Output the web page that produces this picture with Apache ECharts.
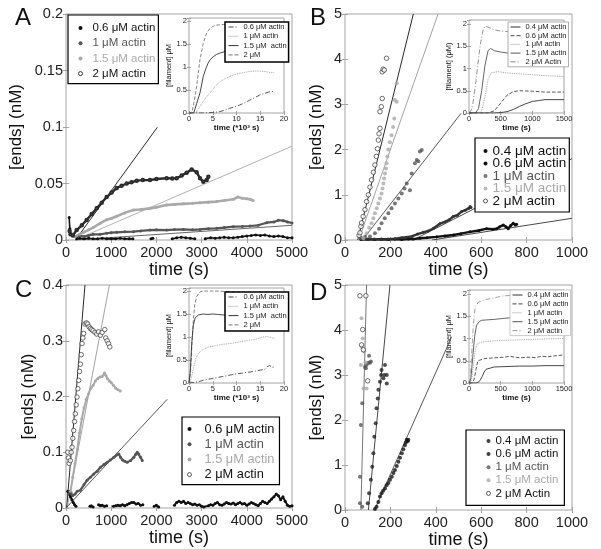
<!DOCTYPE html>
<html>
<head>
<meta charset="utf-8">
<script src="https://cdn.jsdelivr.net/npm/echarts@6/dist/echarts.min.js"></script>
<style>
html, body { margin: 0; padding: 0; background: #fff; }
#chart { width: 601px; height: 549px; }
</style>
</head>
<body>
<div id="chart"></div>
<script>
// ---- panel A: [ends] vs time, pairs of [time (s), ends (nM)]
const aEnds06 = [[70,0.02],[85,0.01],[95,0.005],[110,'-'],[240,0.001],[300,0.0015],[400,0.001],[500,0.0015],[600,0.001],[700,0.001],[800,0.0015],[900,0.001],[1000,0.0012],[1100,0.001],[1200,0.0015],[1300,0.001],[1400,0.0012],[1480,0.001],[1550,'-'],[1880,0.001],[1920,0.0015],[1960,'-'],[2350,0.001],[2450,0.002],[2550,0.0025],[2650,0.002],[2750,0.0015],[2850,0.001],[2950,'-'],[3080,0.0012],[3200,0.002],[3300,0.0015],[3400,0.002],[3500,0.0025],[3600,0.002],[3700,0.002],[3800,0.0025],[3900,0.003],[4000,0.0035],[4100,0.004],[4200,0.0045],[4300,0.004],[4400,0.0045],[4500,0.0035],[4600,0.003],[4700,0.0035],[4800,0.003],[4900,0.002],[5000,0.002]];
const aEnds1 = [[200,0.003],[300,0.004],[401,0.003],[500,0.004],[600,0.005],[752,0.005],[900,0.006],[1000,0.0065],[1122,0.0068],[1300,0.0072],[1490,0.0074],[1650,0.008],[1858,0.0088],[2000,0.009],[2227,0.0088],[2400,0.0092],[2596,0.0094],[2800,0.009],[2965,0.0094],[3150,0.01],[3333,0.0103],[3500,0.011],[3702,0.0118],[3900,0.012],[4071,0.0124],[4250,0.013],[4440,0.0153],[4600,0.016],[4700,0.0175],[4808,0.0171],[4900,0.016],[5000,0.015]];
const aEnds15 = [[200,0.003],[300,0.005],[400,0.007],[500,0.009],[600,0.011],[752,0.0147],[900,0.018],[1000,0.019],[1122,0.021],[1300,0.024],[1490,0.0265],[1650,0.027],[1858,0.028],[2000,0.029],[2227,0.031],[2400,0.0315],[2596,0.032],[2800,0.0325],[2965,0.033],[3150,0.0335],[3333,0.034],[3500,0.035],[3702,0.036],[3800,0.038],[3900,0.037],[4000,0.0365],[4071,0.036],[4140,0.035]];
const aEnds2 = [[80,0.008],[100,0.005],[150,0.004],[236,0.0088],[350,0.013],[457,0.0177],[570,0.023],[679,0.028],[790,0.033],[900,0.038],[1010,0.042],[1122,0.046],[1230,0.048],[1343,0.05],[1450,0.051],[1564,0.0525],[1700,0.053],[1858,0.053],[2000,0.054],[2227,0.0546],[2350,0.0545],[2448,0.0546],[2560,0.057],[2670,0.0596],[2780,0.0625],[2891,0.06],[2965,0.0546],[3038,0.0516],[3112,0.053],[3149,0.056]];
const aFit2 = [[209,0],[2020,0.0997]];
const aFit15 = [[200,0],[5000,0.083]];
const aFit1 = [[200,0],[5000,0.013]];
// panel A inset: [time (*10^3 s), filament (uM)]
const aFil2 = [[0,0],[0.6,0],[1,0.2],[1.6,0.57],[2.3,1.15],[3,1.51],[3.7,1.73],[4.3,1.82],[4.9,1.87],[5.5,1.9],[6.25,1.91],[7.3,1.92],[10,1.93],[14,1.93],[18,1.93]];
const aFil15 = [[0,0],[1,0],[1.6,0.2],[2.3,0.43],[3,0.79],[3.5,0.95],[4,1.08],[4.5,1.16],[5.1,1.22],[5.8,1.27],[6.5,1.3],[7.5,1.33],[9,1.35],[12,1.36],[18,1.36]];
const aFil1 = [[0,0],[1.5,0.02],[2.3,0.14],[3,0.25],[3.7,0.35],[4.4,0.43],[5.5,0.57],[6.5,0.68],[7.5,0.74],[8.5,0.79],[9.5,0.83],[10.6,0.86],[11.7,0.88],[12.8,0.9],[14,0.91],[14.9,0.91],[16,0.9],[17,0.88],[18,0.88]];
const aFil06 = [[0,0],[3,0],[4,0.005],[5,0.01],[6.5,0.03],[7.5,0.06],[8.5,0.1],[9.5,0.13],[10.6,0.17],[11.7,0.22],[12.8,0.28],[13.8,0.33],[14.9,0.39],[16,0.43],[17,0.46],[18,0.47]];

// ---- panel B
const bEnds04 = [[70,0.01],[100,0.02],[130,0.01],[160,0.02],[190,0.01],[220,0.02],[250,0.01],[280,0.02],[300,0.02],[330,0.04],[360,0.05],[404,0.07],[440,0.09],[477,0.11],[510,0.14],[551,0.18],[590,0.21],[624,0.25],[650,0.24],[668,0.25],[680,0.29],[697,0.33],[710,0.29],[719,0.25],[730,0.32],[741,0.37],[750,0.33],[756,0.35]];
const bEnds06 = [[70,0.02],[100,0.01],[130,0.02],[160,0.01],[190,0.02],[220,0.03],[250,0.05],[270,0.06],[294,0.08],[320,0.13],[345,0.17],[367,0.2],[390,0.26],[418,0.36],[440,0.4],[460,0.45],[477,0.52],[495,0.55],[514,0.63],[530,0.66],[545,0.7],[551,0.74],[555,0.72]];
const bEnds1 = [[70,0.05],[88,0.07],[110,0.08],[132,0.15],[150,0.25],[161,0.37],[175,0.48],[191,0.59],[205,0.7],[220,0.81],[235,0.92],[250,1.03],[262,1.14],[272,1.25],[286,1.1],[294,1.47],[308,1.7],[316,1.77],[323,1.74],[330,1.96],[338,1.99]];
const bEnds15 = [[81,0.04],[95,0.15],[106,0.27],[117,0.37],[125,0.48],[132,0.59],[140,0.7],[147,0.81],[154,0.92],[161,1.03],[165,1.14],[169,1.25],[172,1.36],[176,1.47],[180,1.58],[183,1.7],[187,1.85],[191,2.0],[198,2.16],[205,2.32],[212,2.5],[217,2.69],[220,3.1],[228,3.06],[228,3.47]];
const bEnds2 = [[62,0.1],[66,0.16],[70,0.3],[73,0.38],[80,0.52],[88,0.67],[95,0.85],[103,1.0],[110,1.17],[117,1.33],[125,1.5],[132,1.66],[138,1.85],[143,2.02],[147,2.21],[150,2.35],[154,2.47],[154,2.84],[160,2.95],[164,3.13],[164,3.72],[168,3.78],[173,3.76],[183,4.02]];
const bFit2 = [[56,0],[301,5]];
const bFit15 = [[60,0],[410,5]];
const bFit1 = [[77,0],[511,2.8]];
const bFit06 = [[300,0],[1000,1.8]];
const bFit04 = [[384,0],[1000,0.48]];
const bFil2 = [[0,0],[30,0.05],[60,0.2],[100,0.6],[140,1.1],[180,1.55],[220,1.85],[250,1.95],[300,1.93],[400,1.87],[500,1.84],[600,1.83],[800,1.82],[1000,1.8],[1500,1.8]];
const bFil15 = [[0,0],[100,0],[150,0.1],[200,0.5],[250,1.05],[300,1.4],[340,1.45],[400,1.4],[500,1.37],[600,1.35],[800,1.33],[1000,1.32],[1500,1.3]];
const bFil1 = [[0,0],[150,0],[200,0.05],[250,0.35],[300,0.75],[350,0.9],[450,0.93],[600,0.9],[800,0.88],[1000,0.86],[1200,0.84],[1500,0.82]];
const bFil06 = [[0,0],[300,0],[400,0.05],[500,0.22],[600,0.4],[700,0.48],[800,0.5],[1000,0.49],[1200,0.47],[1500,0.47]];
const bFil04 = [[0,0],[400,0],[500,0.01],[600,0.03],[700,0.08],[800,0.15],[900,0.21],[1000,0.26],[1100,0.28],[1200,0.3],[1500,0.3]];

// ---- panel C
const cEnds06 = [[40,0.03],[70,0.025],[100,0.02],[130,0.015],[160,0.01],[190,0.006],[220,0.003],[260,'-'],[530,0.003],[560,0.004],[600,0.002],[640,'-'],[720,0.006],[760,0.004],[800,0.005],[850,0.003],[900,0.004],[960,'-'],[1050,0.003],[1100,0.004],[1150,0.005],[1200,0.004],[1250,0.006],[1300,0.004],[1350,0.006],[1400,0.008],[1450,0.01],[1500,0.01],[1550,0.007],[1600,0.008],[1650,0.005],[1700,0.006],[1800,'-'],[1950,0.003],[2000,0.005],[2050,0.002],[2150,'-'],[2400,0.005],[2450,0.01],[2500,0.012],[2550,0.01],[2600,0.012],[2650,0.008],[2700,0.01],[2750,0.008],[2800,0.006],[2850,0.007],[2900,0.005],[2950,0.006],[3000,0.003],[3050,0.002],[3150,0.004],[3200,0.006],[3250,0.005],[3300,0.008],[3350,0.01],[3400,0.006],[3450,0.005],[3500,0.007],[3550,0.01],[3600,0.008],[3650,0.007],[3700,0.009],[3750,0.006],[3800,0.008],[3850,0.01],[3900,0.007],[3950,0.008],[4000,0.005],[4050,0.007],[4100,0.01],[4150,0.008],[4200,0.006],[4250,0.004],[4300,0.008],[4350,0.012],[4400,0.01],[4450,0.008],[4500,0.012],[4550,0.016],[4600,0.02],[4650,0.025],[4700,0.022],[4750,0.015],[4800,0.02],[4850,0.012],[4900,0.005],[4950,0.003],[5000,0.004]];
const cEnds1 = [[50,0.025],[80,0.03],[110,0.028],[150,0.022],[200,0.025],[250,0.03],[318,0.032],[400,0.042],[466,0.05],[540,0.055],[614,0.061],[690,0.066],[762,0.073],[840,0.078],[910,0.082],[980,0.086],[1058,0.091],[1120,0.095],[1169,0.097],[1206,0.091],[1250,0.086],[1300,0.084],[1354,0.082],[1428,0.085],[1502,0.091],[1540,0.096],[1576,0.1],[1610,0.097],[1650,0.091],[1687,0.085]];
const cEnds15 = [[100,0.03],[150,0.055],[200,0.08],[250,0.105],[300,0.135],[350,0.16],[400,0.18],[450,0.195],[500,0.205],[550,0.215],[600,0.22],[650,0.228],[700,0.232],[750,0.235],[800,0.236],[850,0.242],[880,0.238],[920,0.232],[960,0.228],[1000,0.225],[1050,0.22],[1100,0.215],[1150,0.212],[1200,0.21]];
const cEnds2 = [[40,0.1],[55,0.09],[70,0.08],[96,0.085],[115,0.1],[133,0.109],[150,0.125],[169,0.139],[188,0.155],[207,0.169],[225,0.185],[244,0.199],[262,0.214],[281,0.229],[300,0.245],[318,0.258],[337,0.275],[355,0.295],[373,0.305],[391,0.313],[420,0.33],[451,0.332],[480,0.33],[510,0.325],[540,0.322],[570,0.32],[600,0.318],[640,0.315],[680,0.312],[720,0.316],[760,0.31],[800,0.315],[857,0.32],[880,0.305],[910,0.3],[940,0.295],[969,0.289]];
const cFit2 = [[15,0],[420,0.4]];
const cFit15 = [[25,0],[960,0.4]];
const cFit1 = [[0,0],[2240,0.195]];
const cFil2 = [[0,0],[0.3,0.2],[0.6,0.8],[0.9,1.35],[1.2,1.7],[1.6,1.88],[2.3,1.98],[3,2.0],[5,2.0],[8,1.99],[10,1.98],[18,1.97]];
const cFil15 = [[0,0],[0.3,0.3],[0.6,0.9],[0.9,1.25],[1.3,1.42],[2,1.48],[3,1.5],[4,1.49],[5,1.5],[6,1.49],[7,1.48],[10,1.47],[18,1.45]];
const cFil1 = [[0,0],[0.5,0.1],[1,0.35],[1.5,0.55],[2,0.65],[3,0.73],[4,0.78],[5,0.8],[6,0.82],[7,0.84],[8,0.85],[10,0.88],[12,0.92],[14,0.95],[15.5,1.0],[16.5,1.01],[17.5,0.98],[18,0.97]];
const cFil06 = [[0,0.02],[1,0.01],[2,0.03],[3,0.06],[4,0.08],[5,0.1],[6,0.12],[7,0.14],[8,0.16],[9,0.18],[10,0.2],[11,0.21],[12,0.23],[13,0.24],[14,0.26],[15,0.28],[16,0.3],[16.5,0.36],[17,0.38],[17.5,0.34],[18,0.35]];

// ---- panel D
const dEnds04 = [[132,0.02],[139,0.07],[147,0.18],[154,0.3],[161,0.37],[168,0.43],[176,0.48],[183,0.55],[191,0.6],[198,0.67],[206,0.74],[213,0.82],[220,0.89],[228,0.98],[235,1.07],[242,1.16],[250,1.26],[257,1.35],[264,1.44],[268,1.5],[272,1.56],[276,1.53],[279,1.56]];
const dEnds06 = [[100,0.15],[106,0.37],[114,0.67],[120,0.96],[125,1.26],[129,1.63],[135,1.93],[139,2.26],[144,2.48],[147,2.67],[154,2.85],[159,3.0],[161,3.11],[169,2.93],[173,3.0],[176,3.22],[184,3.0],[184,2.81]];
const dEnds1 = [[66,0.15],[76,0.07],[66,0.74],[70,1.89],[76,2.37],[88,3.18],[92,3.15],[95,3.22],[103,3.27],[106,3.43],[110,3.27],[114,3.3]];
const dEnds15 = [[73,4.26],[78,3.81],[73,3.63],[85,3.52],[70,3.22],[81,2.7],[95,2.7],[90,3.28]];
const dEnds2 = [[66,4.76],[92,4.76],[78,4.01],[73,3.67],[81,3.56],[100,2.87]];
const dFit2 = [[70,0],[95,5]];
const dFit06 = [[103,0],[198,5]];
const dFit04 = [[130,0],[470,3.85]];
const dFil2 = [[0,0],[20,0.05],[40,0.6],[60,1.1],[80,1.5],[100,1.72],[150,1.82],[250,1.87],[350,1.9],[450,1.93],[550,1.96],[700,1.97],[1000,1.98],[1500,2.0]];
const dFil15 = [[0,0],[30,0.1],[60,0.6],[90,1.05],[120,1.3],[160,1.38],[200,1.41],[300,1.42],[400,1.43],[600,1.46],[1000,1.48],[1500,1.5]];
const dFil1 = [[0,0],[40,0.05],[70,0.4],[100,0.75],[130,0.88],[200,0.92],[400,0.95],[600,0.96],[800,0.97],[1000,0.98],[1200,0.99],[1500,1.0]];
const dFil06 = [[0,0],[50,0],[80,0.08],[110,0.3],[140,0.5],[170,0.54],[250,0.55],[350,0.56],[450,0.57],[550,0.58],[650,0.6],[750,0.57],[850,0.57],[950,0.58],[1050,0.57],[1150,0.6],[1250,0.59],[1350,0.61],[1500,0.63]];
const dFil04 = [[0,0],[100,0],[150,0.02],[180,0.07],[210,0.15],[240,0.25],[270,0.31],[300,0.34],[400,0.36],[600,0.37],[800,0.38],[1000,0.38],[1200,0.39],[1500,0.39]];

const LABELS = {
  a06: '0.6 μM actin', a1: '1 μM actin', a15: '1.5 μM actin', a2: '2 μM actin',
  ai06: '0.6 μM actin', ai1: '1 μM actin', ai15: '1.5 μM  actin', ai2: '2 μM',
  b04: '0.4 μM actin', b06: '0.6 μM actin', b1: '1 μM actin', b15: '1.5 μM actin', b2: '2 μM actin',
  bi04: '0.4 μM actin', bi06: '0.6 μM actin', bi1: '1 μM actin', bi15: '1.5 μM actin', bi2: '2 μM Actin',
  c06: '0.6 μM actin', c1: '1 μM actin', c15: '1.5 μM actin', c2: '2 μM actin',
  ci06: '0.6 μM actin', ci1: '1 μM actin', ci15: '1.5 μM  actin', ci2: '2 μM',
  d04: '0.4 μM actin', d06: '0.6 μM actin', d1: '1 μM actin', d15: '1.5 μM actin', d2: '2 μM Actin',
  di04: '0.4 μM actin', di06: '0.6 μM actin', di1: '1 μM actin', di15: '1.5 μM actin', di2: '2 μM actin'
};

const FONT = '"Liberation Sans", Arial, sans-serif';
const FRAME = '#a4a4a4';
const BLACK = '#111';
const DARK = '#555';
const LIGHT = '#a9a9a9';
const RING = '#333';
const DASHDOT = [5, 2, 1, 2];

const chart = echarts.init(document.getElementById('chart'));

const grids = [
  { left: 66, top: 14, width: 226, height: 226 },
  { left: 345, top: 14, width: 227, height: 226 },
  { left: 66, top: 285, width: 226, height: 223 },
  { left: 345, top: 285, width: 227, height: 225 },
  { left: 189, top: 18, width: 95, height: 95 },
  { left: 469, top: 20, width: 95, height: 93 },
  { left: 189, top: 288, width: 95, height: 95 },
  { left: 469, top: 290, width: 95, height: 93 }
].map(g => Object.assign(g, { show: true, borderColor: FRAME, borderWidth: 1, backgroundColor: '#fff', outerBoundsMode: 'none' }));

// x axes: [max, interval, name, nameGap], y axes: [max, interval, name, nameGap]
const xSpec = [
  [5000, 1000, 'time (s)', 16], [1000, 200, 'time (s)', 14], [5000, 1000, 'time (s)', 20], [1000, 200, 'time (s)', 19],
  [20, 5, 'time (*10³ s)', 8], [1500, 500, 'time (s)', 8], [20, 5, 'time (*10³ s)', 8], [1500, 500, 'time (s)', 8]
];
const ySpec = [
  [0.2, 0.05, '[ends] (nM)', 41], [5, 1, '[ends] (nM)', 20], [0.4, 0.1, '[ends] (nM)', 29], [5, 1, '[ends] (nM)', 20],
  [2.06, 0.5, '[filament] μM', 12], [2.09, 0.5, '[filament] (μM)', 12], [2.065, 0.5, '[filament] μM', 12], [2.09, 0.5, '[filament] μM', 12]
];

function onTick(step) {
  return v => (Math.abs(v / step - Math.round(v / step)) < 1e-6 ? String(+v.toFixed(3)) : '');
}

const xAxis = [];
const yAxis = [];
xSpec.forEach((s, i) => {
  const inset = i >= 4;
  xAxis.push({
    type: 'value', gridIndex: i, min: 0, max: s[0], interval: s[1], position: 'bottom',
    name: s[2], nameLocation: 'middle', nameGap: s[3],
    nameTextStyle: { fontFamily: FONT, fontSize: inset ? 8 : 18, color: '#111', fontWeight: inset ? 'bold' : 'normal' },
    axisLine: { show: false },
    axisTick: { inside: true, length: inset ? 2 : 3, lineStyle: { color: FRAME } },
    axisLabel: { fontFamily: FONT, fontSize: inset ? 7.5 : 14.5, color: '#222', margin: inset ? 2 : 5, formatter: onTick(s[1]) },
    splitLine: { show: false }
  });
});
ySpec.forEach((s, i) => {
  const inset = i >= 4;
  yAxis.push({
    type: 'value', gridIndex: i, min: 0, max: s[0], interval: s[1], position: 'left',
    name: s[2], nameLocation: 'middle', nameRotate: 90, nameGap: s[3],
    nameTextStyle: { fontFamily: FONT, fontSize: inset ? 7.5 : 17, color: '#111' },
    axisLine: { show: false },
    axisTick: { inside: true, length: inset ? 2 : 3, lineStyle: { color: FRAME } },
    axisLabel: { fontFamily: FONT, fontSize: inset ? 7.5 : 14.5, color: '#222', margin: inset ? 2 : 3, formatter: onTick(s[1]) },
    splitLine: { show: false }
  });
});
// mirrored ticks on the top and right edges of every box
xSpec.forEach((s, i) => {
  xAxis.push({
    type: 'value', gridIndex: i, min: 0, max: s[0], interval: s[1], position: 'top',
    axisLine: { show: false }, axisLabel: { show: false }, splitLine: { show: false },
    axisTick: { inside: true, length: i >= 4 ? 2 : 3, lineStyle: { color: FRAME } }
  });
});
ySpec.forEach((s, i) => {
  yAxis.push({
    type: 'value', gridIndex: i, min: 0, max: s[0], interval: s[1], position: 'right',
    axisLine: { show: false }, axisLabel: { show: false }, splitLine: { show: false },
    axisTick: { inside: true, length: i >= 4 ? 2 : 3, lineStyle: { color: FRAME } }
  });
});

function trail(name, gi, data, color, width, symbol, size) {
  return {
    type: 'line', name, xAxisIndex: gi, yAxisIndex: gi, data, silent: true, z: 3,
    symbol: symbol || 'circle', symbolSize: size || 3, showSymbol: true, connectNulls: false,
    lineStyle: { color, width }, itemStyle: { color, borderWidth: symbol ? 0.8 : 0 }
  };
}
function dots(name, gi, data, color, size) {
  return { type: 'scatter', name, xAxisIndex: gi, yAxisIndex: gi, data, silent: true, z: 3,
    symbolSize: size || 4, itemStyle: { color } };
}
function rings(name, gi, data) {
  return { type: 'scatter', name, xAxisIndex: gi, yAxisIndex: gi, data, silent: true, z: 4,
    symbol: 'circle', symbolSize: 4.5, itemStyle: { color: '#fff', borderColor: RING, borderWidth: 0.9 } };
}
function fit(gi, data, color) {
  return { type: 'line', name: 'fit', xAxisIndex: gi, yAxisIndex: gi, data, silent: true, z: 2,
    symbol: 'none', lineStyle: { color, width: 0.9 } };
}
function curve(name, gi, data, color, type) {
  return { type: 'line', name, xAxisIndex: gi, yAxisIndex: gi, data, silent: true, z: 3,
    symbol: 'none', lineStyle: { color, width: 0.9, type }, itemStyle: { color } };
}

const series = [
  fit(0, aFit2, BLACK), fit(0, aFit15, LIGHT), fit(0, aFit1, DARK),
  trail('a06', 0, aEnds06, BLACK, 1.6), trail('a1', 0, aEnds1, DARK, 2.2),
  trail('a15', 0, aEnds15, LIGHT, 2.6), trail('a2', 0, aEnds2, '#2a2a2a', 2.4, 'emptyCircle', 2.5),
  curve('ai2', 4, aFil2, '#777', 'dashed'), curve('ai15', 4, aFil15, '#333', 'solid'),
  curve('ai1', 4, aFil1, '#999', 'dotted'), curve('ai06', 4, aFil06, '#444', DASHDOT),

  fit(1, bFit2, BLACK), fit(1, bFit15, '#999'), fit(1, bFit1, '#444'), fit(1, bFit06, '#333'), fit(1, bFit04, '#333'),
  trail('b04', 1, bEnds04, BLACK, 2.4), trail('b06', 1, bEnds06, '#333', 2.4),
  dots('b1', 1, bEnds1, DARK, 4), dots('b15', 1, bEnds15, LIGHT, 4), rings('b2', 1, bEnds2),
  curve('bi2', 5, bFil2, '#888', DASHDOT), curve('bi15', 5, bFil15, '#555', 'solid'),
  curve('bi1', 5, bFil1, '#999', 'dotted'), curve('bi06', 5, bFil06, '#444', 'dashed'), curve('bi04', 5, bFil04, '#333', 'solid'),

  fit(2, cFit2, BLACK), fit(2, cFit15, '#999'), fit(2, cFit1, '#444'),
  trail('c06', 2, cEnds06, BLACK, 2), trail('c1', 2, cEnds1, DARK, 2.2),
  trail('c15', 2, cEnds15, LIGHT, 2), rings('c2', 2, cEnds2),
  curve('ci2', 6, cFil2, '#777', 'dashed'), curve('ci15', 6, cFil15, '#333', 'solid'),
  curve('ci1', 6, cFil1, '#999', 'dotted'), curve('ci06', 6, cFil06, '#444', DASHDOT),

  fit(3, dFit2, '#666'), fit(3, dFit06, '#333'), fit(3, dFit04, '#444'),
  dots('d04', 3, dEnds04, BLACK, 4), dots('d06', 3, dEnds06, '#222', 4),
  dots('d1', 3, dEnds1, DARK, 4), dots('d15', 3, dEnds15, LIGHT, 4), rings('d2', 3, dEnds2),
  curve('di2', 7, dFil2, '#999', DASHDOT), curve('di15', 7, dFil15, '#555', 'solid'),
  curve('di1', 7, dFil1, '#999', 'dotted'), curve('di06', 7, dFil06, '#444', 'dashed'), curve('di04', 7, dFil04, '#333', 'solid')
];

const TXT = { '04': BLACK, '06': BLACK, '1': '#555', '15': '#a9a9a9', '2': BLACK };
function mainItems(prefix, keys) {
  return keys.map(k => ({
    name: prefix + k,
    icon: 'circle',
    itemStyle: k === '2' ? { color: '#fff', borderColor: RING, borderWidth: 1 }
      : { color: k === '1' ? DARK : (k === '15' ? LIGHT : BLACK), borderWidth: 0 },
    textStyle: { color: TXT[k] }
  }));
}
function mainLegend(prefix, keys, left, top, pad, fontSize, gap, iw) {
  return {
    orient: 'vertical', align: 'left', left, top, padding: pad, itemGap: gap,
    itemWidth: iw, itemHeight: 4, selectedMode: false,
    backgroundColor: '#fff', borderColor: '#000', borderWidth: 1.2,
    textStyle: { fontFamily: FONT, fontSize, color: BLACK },
    formatter: n => LABELS[n],
    data: mainItems(prefix, keys)
  };
}
function insetLegend(prefix, keys, left, top, pad, gap, border, bw) {
  return {
    orient: 'vertical', align: 'left', left, top, padding: pad, itemGap: gap,
    itemWidth: 10, itemHeight: 6, selectedMode: false,
    backgroundColor: '#fff', borderColor: border, borderWidth: bw,
    textStyle: { fontFamily: FONT, fontSize: 7.5, color: '#222' },
    formatter: n => LABELS[n],
    data: keys.map(k => ({ name: prefix + k, itemStyle: { opacity: 0 }, lineStyle: { width: 1 } }))
  };
}

const legend = [
  mainLegend('a', ['06', '1', '15', '2'], 68, 15, [7, 3, 4, 10], 11.5, 3.2, 14),
  mainLegend('b', ['04', '06', '1', '15', '2'], 475, 138, [6, 3, 4, 8], 13.5, -1.5, 4),
  mainLegend('c', ['06', '1', '15', '2'], 182, 417, [5.5, 5, 3.5, 5], 12.8, 2.2, 20),
  mainLegend('d', ['04', '06', '1', '15', '2'], 466, 430, [5, 6, 6, 20], 11.5, 1.1, 4),
  insetLegend('ai', ['06', '1', '15', '2'], 225, 22, [1, 2, 3, 3], 1.3, '#000', 1.5),
  insetLegend('bi', ['04', '06', '1', '15', '2'], 508, 22, [1, 2, 1, 2], 0.7, '#999', 0.8),
  insetLegend('ci', ['06', '1', '15', '2'], 225, 292, [1, 2, 2, 3], 1.3, '#000', 1.5),
  insetLegend('di', ['04', '06', '1', '15', '2'], 510, 290, [1, 2, 1, 2], 0.9, '#bbb', 0.8)
];

const title = [['A', 15, 6], ['B', 310, 6], ['C', 15, 278], ['D', 310, 281]].map(t => ({
  text: t[0], left: t[1], top: t[2], padding: 0,
  textStyle: { fontFamily: FONT, fontSize: 24, fontWeight: 'normal', color: '#111' }
}));

chart.setOption({
  animation: false,
  backgroundColor: '#fff',
  textStyle: { fontFamily: FONT },
  title,
  grid: grids,
  xAxis,
  yAxis,
  legend,
  series
});
</script>
</body>
</html>
